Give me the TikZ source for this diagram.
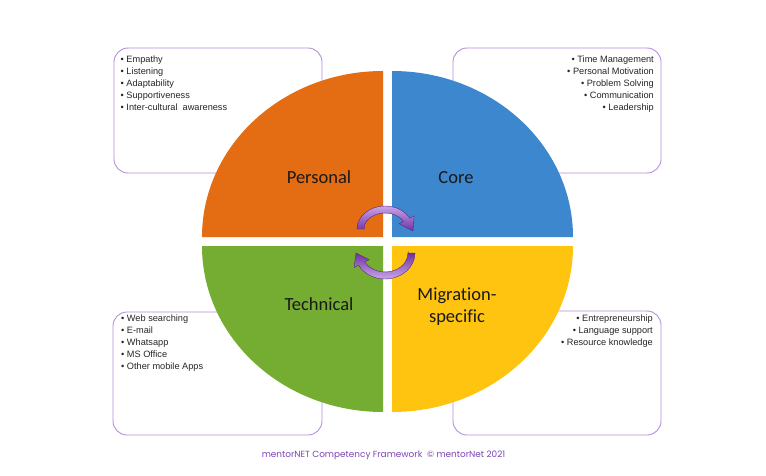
\documentclass[tikz,border=0pt]{standalone}
\usepackage{fontspec}
\setmainfont{Liberation Sans}
\newfontfamily\calfont[Ligatures=NoCommon]{Carlito}
\newfontfamily\popfont{Poppins}
\definecolor{qorange}{HTML}{E46C13}
\definecolor{qblue}{HTML}{3C87CD}
\definecolor{qgreen}{HTML}{74AD31}
\definecolor{qyellow}{HTML}{FEC40F}
\definecolor{boxpurple}{HTML}{B48FDC}
\definecolor{arrowdark}{HTML}{7030A0}
\definecolor{arrowlight}{HTML}{C8A6EA}
\definecolor{footpurple}{HTML}{7B44B5}
\begin{document}
\begin{tikzpicture}[x=1pt,y=1pt,
  box/.style={draw=boxpurple, line width=0.9pt, rounded corners=14pt},
  item/.style={inner sep=0pt, font=\fontsize{9.2}{12}\selectfont, text=black!85},
  quadlabel/.style={inner sep=0pt, anchor=base, font=\calfont\fontsize{18.5}{22.5}\selectfont, text=black!90},
  cyclearrow/.style={draw=arrowdark!80!black, line width=0.4pt}
]
\fill[white] (0,0) rectangle (766,475);
\useasboundingbox (0,0) rectangle (766,475);

% boxes
\draw[box] (114,302) rectangle (322,427);
\draw[box] (453,302) rectangle (661,427);
\draw[box] (113,40) rectangle (322,163);
\draw[box] (453,40) rectangle (661,164);

% quadrants
\fill[qorange] (383,238) -- ++(-181,0) arc[start angle=180,end angle=90,x radius=181,y radius=166] -- cycle;
\fill[qblue] (392,238) -- ++(0,166) arc[start angle=90,end angle=0,x radius=181,y radius=166] -- cycle;
\fill[qgreen] (383,229) -- ++(-181,0) arc[start angle=180,end angle=270,x radius=181,y radius=166] -- cycle;
\fill[qyellow] (392,229) -- ++(181,0) arc[start angle=0,end angle=-90,x radius=181,y radius=166] -- cycle;

% quadrant labels
\node[quadlabel] (personal) at (319,291) {Personal};
\node[quadlabel] (core) at (456,291) {Core};
\node[quadlabel] (technical) at (319,165) {Technical};
\node[quadlabel] (mig1) at (457,175) {Migrat\kern0pt ion-};
\node[quadlabel] (mig2) at (457,153) {specific};

% cycle arrows
\shade[cyclearrow, top color=arrowlight, bottom color=arrowdark]
  (364,246) -- (357,246) arc[start angle=180,end angle=28,x radius=28,y radius=23]
  -- (414.1,259.1) -- (413,244) -- (399.1,251.2) -- (403.5,253.5)
  arc[start angle=28,end angle=180,x radius=21,y radius=16] -- cycle;
\shade[cyclearrow, top color=arrowdark, bottom color=arrowlight]
  (408,222) -- (415,222) arc[start angle=0,end angle=-152,x radius=30,y radius=26]
  -- (354.1,207.5) -- (356,222) -- (369.1,215.4) -- (364.7,213.1)
  arc[start angle=-152,end angle=0,x radius=23,y radius=19] -- cycle;

% box texts
\foreach \t [count=\i] in {Empathy, Listening, Adaptability, Supportiveness, {Inter-cultural~ awareness}}
  \node[item, anchor=base west] (pers\i) at (120.5,{412.3-12*(\i-1)}) {• \t};
\foreach \t [count=\i] in {Time Management, Personal Motivation, Problem Solving, Communication, Leadership}
  \node[item, anchor=base east] (core\i) at (654,{412.3-12*(\i-1)}) {• \t};
\foreach \t [count=\i] in {Web searching, E-mail, Whatsapp, MS Office, Other mobile Apps}
  \node[item, anchor=base west] (tech\i) at (121,{153.3-12*(\i-1)}) {• \t};
\foreach \t [count=\i] in {Entrepreneurship, Language support, Resource knowledge}
  \node[item, anchor=base east] (migr\i) at (653,{154-12*(\i-1)}) {• \t};

% footer
\node[inner sep=0pt, text=footpurple, font=\popfont\fontsize{8.9}{10}\selectfont] (footer) at (383.5,19.3) {mentorNET Competency Framework\ \ © mentorNet 2021};
\end{tikzpicture}
\end{document}
